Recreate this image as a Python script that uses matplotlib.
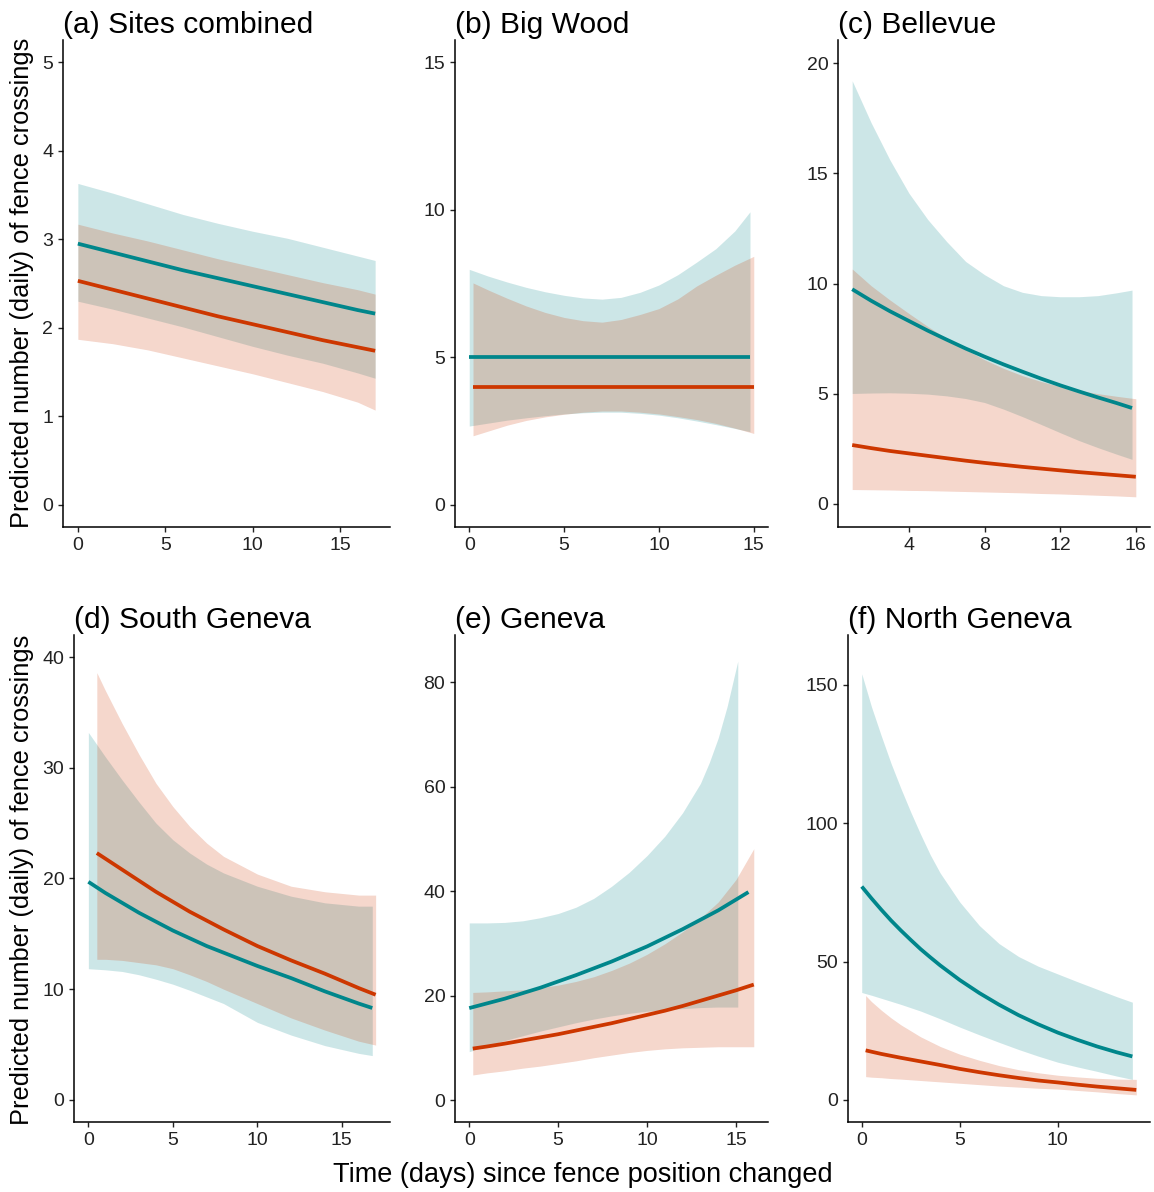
import matplotlib
matplotlib.use("Agg")
import matplotlib.pyplot as plt

plt.rcParams['font.family'] = ['Liberation Sans', 'DejaVu Sans']

TEAL = '#00868B'
ORANGE = '#CD3700'

titles = ['(a) Sites combined', '(b) Big Wood', '(c) Bellevue',
          '(d) South Geneva', '(e) Geneva', '(f) North Geneva']

# (a) Sites combined
a_x = [0, 2, 4, 6, 8, 10, 12, 14, 16, 17]
a_teal = [2.95, 2.85, 2.75, 2.65, 2.56, 2.47, 2.38, 2.29, 2.20, 2.16]
a_teal_lo = [2.30, 2.21, 2.11, 2.01, 1.90, 1.79, 1.69, 1.60, 1.49, 1.43]
a_teal_hi = [3.63, 3.52, 3.40, 3.28, 3.18, 3.09, 3.01, 2.91, 2.81, 2.76]
a_orng = [2.53, 2.43, 2.33, 2.23, 2.13, 2.04, 1.95, 1.86, 1.78, 1.74]
a_orng_lo = [1.87, 1.82, 1.75, 1.66, 1.57, 1.48, 1.38, 1.28, 1.16, 1.07]
a_orng_hi = [3.17, 3.07, 2.98, 2.88, 2.78, 2.69, 2.60, 2.51, 2.43, 2.38]

# (b) Big Wood
b_tx = [0, 1, 2, 3, 4, 5, 6, 7, 8, 9, 10, 11, 12, 13, 14, 14.8]
b_teal = [5.0] * 16
b_teal_lo = [2.67, 2.77, 2.87, 2.95, 3.02, 3.08, 3.12, 3.14, 3.14, 3.10,
             3.04, 2.95, 2.84, 2.72, 2.59, 2.48]
b_teal_hi = [7.98, 7.75, 7.55, 7.37, 7.22, 7.10, 7.01, 6.97, 7.03, 7.20,
             7.45, 7.80, 8.23, 8.68, 9.28, 9.93]
b_ox = [0.2, 1, 2, 3, 4, 5, 6, 7, 8, 9, 10, 11, 12, 13, 14, 15]
b_orng = [4.0] * 16
b_orng_lo = [2.34, 2.50, 2.70, 2.86, 2.98, 3.07, 3.14, 3.18, 3.18, 3.14,
             3.08, 2.99, 2.89, 2.76, 2.60, 2.42]
b_orng_hi = [7.52, 7.28, 7.00, 6.74, 6.52, 6.35, 6.24, 6.19, 6.28, 6.45,
             6.65, 6.98, 7.42, 7.78, 8.12, 8.42]

# (c) Bellevue
c_tx = [1, 2, 3, 4, 5, 6, 7, 8, 9, 10, 11, 12, 13, 14, 15, 15.8]
c_teal = [9.74, 9.22, 8.74, 8.30, 7.86, 7.45, 7.05, 6.68, 6.33, 6.00,
          5.68, 5.38, 5.10, 4.83, 4.57, 4.35]
c_teal_lo = [5.01, 5.03, 5.04, 5.02, 4.98, 4.90, 4.78, 4.60, 4.30, 3.96,
             3.60, 3.23, 2.87, 2.55, 2.25, 2.02]
c_teal_hi = [19.2, 17.3, 15.6, 14.1, 12.9, 11.9, 11.0, 10.4, 9.9, 9.6,
             9.45, 9.40, 9.40, 9.45, 9.58, 9.70]
c_ox = [1, 2, 3, 4, 5, 6, 7, 8, 9, 10, 11, 12, 13, 14, 15, 16]
c_orng = [2.67, 2.53, 2.40, 2.29, 2.18, 2.07, 1.96, 1.86, 1.77, 1.68,
          1.60, 1.52, 1.44, 1.37, 1.30, 1.23]
c_orng_lo = [0.65, 0.64, 0.63, 0.61, 0.60, 0.58, 0.56, 0.54, 0.52, 0.50,
             0.47, 0.45, 0.42, 0.39, 0.36, 0.32]
c_orng_hi = [10.66, 9.90, 9.25, 8.64, 8.05, 7.50, 7.00, 6.54, 6.15, 5.82,
             5.55, 5.33, 5.15, 5.00, 4.88, 4.77]

# (d) South Geneva
d_tx = [0, 1, 2, 3, 4, 5, 6, 7, 8, 10, 12, 14, 16, 16.8]
d_teal = [19.7, 18.7, 17.8, 16.9, 16.1, 15.3, 14.6, 13.9, 13.3, 12.1,
          11.0, 9.8, 8.7, 8.3]
d_teal_lo = [11.85, 11.75, 11.6, 11.3, 10.9, 10.45, 9.9, 9.3, 8.7, 7.0,
             5.85, 4.9, 4.2, 4.0]
d_teal_hi = [33.2, 31.0, 28.9, 26.9, 25.0, 23.5, 22.3, 21.3, 20.5, 19.3,
             18.4, 17.8, 17.5, 17.5]
d_ox = [0.5, 1, 2, 3, 4, 5, 6, 7, 8, 10, 12, 14, 16, 17]
d_orng = [22.3, 21.8, 20.8, 19.8, 18.8, 17.9, 17.0, 16.2, 15.4, 13.9,
          12.6, 11.4, 10.1, 9.5]
d_orng_lo = [12.7, 12.7, 12.6, 12.4, 12.2, 11.85, 11.3, 10.7, 10.0, 8.7,
             7.4, 6.3, 5.3, 4.95]
d_orng_hi = [38.6, 37.0, 34.0, 31.2, 28.6, 26.5, 24.7, 23.2, 22.0, 20.4,
             19.3, 18.8, 18.5, 18.5]

# (e) Geneva
e_tx = [0, 1, 2, 3, 4, 5, 6, 7, 8, 9, 10, 11, 12, 13, 13.5, 14, 14.5, 15.1]
e_teal_lo = [9.26, 10.4, 11.4, 12.3, 13.2, 14.0, 14.8, 15.5, 16.1, 16.6,
             17.0, 17.3, 17.5, 17.7, 17.75, 17.8, 17.8, 17.8]
e_teal_hi = [33.9, 33.9, 34.0, 34.3, 34.9, 35.7, 36.9, 38.6, 40.9, 43.6,
             46.8, 50.5, 55.0, 60.6, 64.6, 69.3, 75.3, 84.0]
e_lx = [0, 2, 4, 6, 8, 10, 12, 14, 15.7]
e_teal = [17.6, 19.4, 21.5, 23.9, 26.5, 29.4, 32.7, 36.3, 39.8]
e_ox = [0.2, 1, 2, 3, 4, 5, 6, 7, 8, 9, 10, 11, 12, 13, 14, 15, 16]
e_orng = [9.85, 10.25, 10.8, 11.4, 12.0, 12.6, 13.3, 14.0, 14.7, 15.5,
          16.3, 17.1, 18.0, 19.0, 20.0, 21.0, 22.1]
e_orng_lo = [4.8, 5.2, 5.6, 6.1, 6.5, 7.0, 7.5, 8.1, 8.6, 9.1, 9.5, 9.8,
             10.0, 10.1, 10.2, 10.2, 10.2]
e_orng_hi = [20.6, 20.7, 20.9, 21.1, 21.5, 22.0, 22.7, 23.6, 24.8, 26.2,
             27.9, 29.9, 32.2, 34.8, 37.9, 42.2, 48.1]

# (f) North Geneva
f_tx = [0, 0.5, 1, 1.5, 2, 2.5, 3, 3.5, 4, 5, 6, 7, 8, 9, 10, 11, 12, 13,
        13.8]
f_teal = [77.1, 72.8, 68.7, 64.8, 61.2, 57.8, 54.5, 51.5, 48.6, 43.3,
          38.6, 34.4, 30.6, 27.3, 24.3, 21.7, 19.3, 17.2, 15.7]
f_teal_lo = [38.8, 37.8, 36.7, 35.6, 34.5, 33.3, 32.1, 30.7, 29.3, 26.3,
             23.5, 20.8, 18.2, 15.8, 13.6, 11.9, 10.3, 8.6, 7.4]
f_teal_hi = [154, 142, 131.5, 121.5, 112.5, 104, 96, 88.5, 82, 71.5, 63,
             56.5, 51.8, 48.3, 45.5, 42.7, 40, 37.3, 35.3]
f_ox = [0.2, 0.5, 1, 1.5, 2, 3, 4, 5, 6, 7, 8, 9, 10, 11, 12, 13, 14]
f_orng = [17.9, 17.4, 16.6, 15.9, 15.2, 13.9, 12.6, 11.2, 10.0, 8.9, 7.9,
          7.0, 6.3, 5.5, 4.8, 4.2, 3.6]
f_orng_lo = [8.4, 8.2, 8.0, 7.7, 7.5, 7.0, 6.5, 6.0, 5.5, 5.0, 4.6, 4.2,
             3.9, 3.4, 2.9, 2.3, 1.8]
f_orng_hi = [37.7, 35.5, 32.4, 29.6, 27.1, 22.8, 19.3, 16.5, 14.3, 12.4,
             10.9, 9.8, 8.9, 8.3, 7.8, 7.5, 7.4]

yticks = [[0, 1, 2, 3, 4, 5], [0, 5, 10, 15], [0, 5, 10, 15, 20],
          [0, 10, 20, 30, 40], [0, 20, 40, 60, 80], [0, 50, 100, 150]]
xticks = [[0, 5, 10, 15], [0, 5, 10, 15], [4, 8, 12, 16],
          [0, 5, 10, 15], [0, 5, 10, 15], [0, 5, 10]]
ylims = [(-0.25, 5.25), (-0.75, 15.75), (-1.05, 21.05),
         (-2, 42), (-4.2, 89), (-8, 168)]
xlims = [(-0.85, 17.85), (-0.75, 15.75), (0.25, 16.75),
         (-0.85, 17.85), (-0.8, 16.8), (-0.7, 14.7)]

series = [
    (a_x, a_teal, a_teal_lo, a_teal_hi, a_x, a_x, a_orng, a_orng_lo, a_orng_hi),
    (b_tx, b_teal, b_teal_lo, b_teal_hi, b_tx, b_ox, b_orng, b_orng_lo, b_orng_hi),
    (c_tx, c_teal, c_teal_lo, c_teal_hi, c_tx, c_ox, c_orng, c_orng_lo, c_orng_hi),
    (d_tx, d_teal, d_teal_lo, d_teal_hi, d_tx, d_ox, d_orng, d_orng_lo, d_orng_hi),
    (e_tx, e_teal, e_teal_lo, e_teal_hi, e_lx, e_ox, e_orng, e_orng_lo, e_orng_hi),
    (f_tx, f_teal, f_teal_lo, f_teal_hi, f_tx, f_ox, f_orng, f_orng_lo, f_orng_hi),
]

# panel boxes in pixels: left, top, right, bottom
boxes = [(63, 40, 390, 527), (455, 40, 768, 527), (838, 40, 1150, 527),
         (74, 635, 390, 1122), (455, 635, 768, 1122), (848, 635, 1150, 1122)]

W, H = 1154, 1192
fig = plt.figure(figsize=(W / 100, H / 100), dpi=100)

for i in range(6):
    l, t, r, b = boxes[i]
    ax = fig.add_axes([l / W, 1 - b / H, (r - l) / W, (b - t) / H])
    tx, tl, tlo, thi, tlx, ox, ol, olo, ohi = series[i]
    ax.fill_between(tx, tlo, thi, color=TEAL, alpha=0.2, linewidth=0)
    ax.fill_between(ox, olo, ohi, color=ORANGE, alpha=0.2, linewidth=0)
    ax.plot(tlx, tl, color=TEAL, linewidth=2.7, solid_capstyle='butt')
    ax.plot(ox, ol, color=ORANGE, linewidth=2.7, solid_capstyle='butt')
    ax.set_xlim(*xlims[i])
    ax.set_ylim(*ylims[i])
    ax.set_xticks(xticks[i])
    ax.set_yticks(yticks[i])
    for s in ['top', 'right']:
        ax.spines[s].set_visible(False)
    for s in ['left', 'bottom']:
        ax.spines[s].set_linewidth(1.1)
        ax.spines[s].set_color('black')
    ax.tick_params(direction='out', length=3.5, width=1, labelsize=14,
                   labelcolor='#222222', color='#222222', pad=3.5)
    ax.set_title(titles[i], loc='left', fontsize=21.6, pad=5)

ylab = 'Predicted number (daily) of fence crossings'
fig.text(22 / W, 1 - 283 / H, ylab, rotation=90, ha='center', va='center',
         fontsize=18.3)
fig.text(22 / W, 1 - 880 / H, ylab, rotation=90, ha='center', va='center',
         fontsize=18.3)
fig.text(583 / W, 1 - 1175 / H, 'Time (days) since fence position changed',
         ha='center', va='center', fontsize=19.5)

fig.savefig('out.png', dpi=100)
